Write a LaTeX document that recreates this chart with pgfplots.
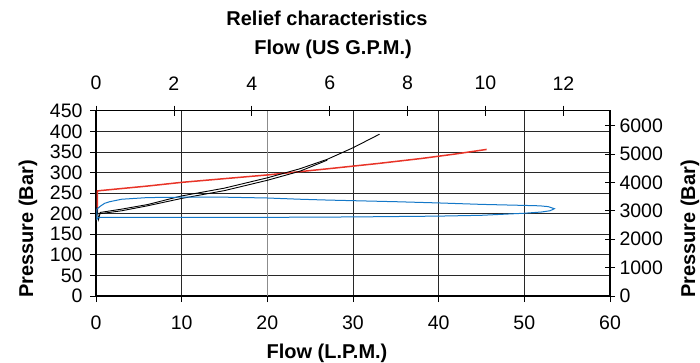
\documentclass[border=0pt]{standalone}
\usepackage{pgfplots}
\pgfplotsset{compat=1.18}
\usepackage{fontspec}
\setmainfont{Liberation Sans}
\definecolor{cred}{RGB}{232,52,40}
\definecolor{cblue}{RGB}{20,120,200}
\definecolor{cgrid}{RGB}{40,40,40}
\newcommand{\tickfont}{\fontsize{19.5}{19.5}\selectfont}
\newcommand{\labfont}{\fontsize{20}{20}\selectfont\bfseries}
\begin{document}
\begin{tikzpicture}
\useasboundingbox (-96pt,-66pt) rectangle (604pt,296pt);
\pgfplotsset{every axis/.append style={scale only axis, width=514pt, height=185.3pt, at={(0,0)}, anchor=south west,
  /pgf/number format/assume math mode=true, tick label style={font=\tickfont}, /pgf/number format/1000 sep={}}}
\begin{axis}[
  xmin=0, xmax=60, ymin=0, ymax=450,
  xtick={0,10,...,60}, ytick={0,50,...,450},
  axis line style={line width=1.4pt},
  grid=major, grid style={cgrid, line width=0.7pt},
  tick align=outside, tick style={black, line width=0.7pt}, major tick length=6pt,
  xtick pos=bottom, ytick pos=left,
  xticklabel style={yshift=-10pt},
  yticklabel style={xshift=-4pt},
  extra x ticks={20}, extra x tick labels={},
  extra x tick style={grid style={black!45, line width=1.2pt}},
  clip=true,
]
\addplot[cred, line width=1.5pt] coordinates {
(0.15,205) (0.15,255) (0.5,256) (1.5,258) (3,261) (6,267) (10,276) (15,285) (20,294) (23.8,302) (28,311) (33,322) (38,334) (42,345) (45.6,356)};
\addplot[black, line width=0.9pt] coordinates {
(0.1,215) (0.3,186) (0.5,203) (3,211) (6,222) (10,243) (15,262) (20,287) (23.8,309) (27,332) (30,360) (33.1,393)};
\addplot[black, line width=0.9pt] coordinates {
(27,330) (23.8,303) (20,281) (15,256) (10,237) (6,219) (3,207) (0.5,200) (0.3,201)};
\addplot[cblue, line width=1.0pt] coordinates {
(0.1,184) (0.1,211) (0.5,218) (1,225) (1.6,229) (3,235) (6,239) (10,240) (15,240) (20,238) (23.8,235) (27,233) (35,229) (40,226) (45,222.5) (50,220) (51.8,219) (52.8,217) (53.5,212) (53,207) (52,204) (50,201) (47,198) (45,196) (40,194) (30,192) (20,191) (10,191) (1,191) (0.3,191) (0.1,186)};
\end{axis}
\begin{axis}[
  xmin=0, xmax=13.1981, ymin=0, ymax=450,
  axis x line*=top, axis y line=none,
  xtick={0,2,...,12},
  tick align=center, tick style={black, line width=0.7pt}, major tick length=10pt,
  axis line style={line width=1.4pt, -},
  xticklabel style={yshift=12pt},
]
\end{axis}
\begin{axis}[
  xmin=0, xmax=60, ymin=0, ymax=6526.71,
  axis y line*=right, axis x line=none,
  ytick={0,1000,...,6000},
  tick align=center, tick style={black, line width=0.7pt}, major tick length=10pt,
  axis line style={line width=1.4pt, -},
  yticklabel style={xshift=1pt},
]
\end{axis}
\node[font=\labfont] at (231pt,278pt) {Relief characteristics};
\node[font=\labfont] at (237pt,247pt) {Flow (US G.P.M.)};
\node[font=\labfont] at (231pt,-57pt) {Flow (L.P.M.)};
\node[font=\labfont, rotate=90] at (-68pt,67pt) {Pressure (Bar)};
\node[font=\labfont, rotate=90] at (594pt,67pt) {Pressure (Bar)};
\end{tikzpicture}
\end{document}
